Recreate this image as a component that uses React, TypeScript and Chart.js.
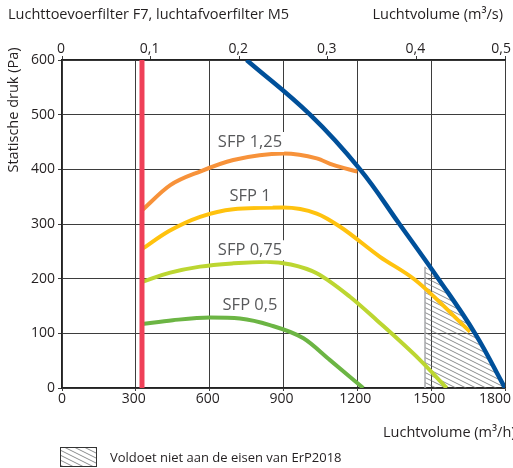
import React, { useEffect, useRef } from 'react';
import { Chart, registerables } from 'chart.js';

Chart.register(...registerables);

const FONT = '"Open Sans", "Noto Sans", sans-serif';

// Tick labels
const xTicksM3h = [0, 300, 600, 900, 1200, 1500, 1800];
const xTicksM3s = [0, 0.1, 0.2, 0.3, 0.4, 0.5];
const yTicks = [0, 100, 200, 300, 400, 500, 600];

// Fan curve (max)
const fanX = [750, 1008, 1211, 1371, 1529, 1678, 1800];
const fanY = [600, 500, 400, 300, 200, 100, 0];

// SFP curves
const sfp125X = [325, 440, 561, 696, 899, 1035, 1102, 1200];
const sfp125Y = [325, 371, 396, 417, 429, 420, 408, 396];

const sfp100X = [325, 435, 561, 696, 899, 1035, 1130, 1292, 1434, 1658];
const sfp100Y = [254, 287, 313, 327, 330, 319, 295, 240, 198, 103];

const sfp075X = [325, 440, 561, 696, 830, 930, 1035, 1170, 1279, 1455, 1563];
const sfp075Y = [194, 211, 222, 228, 231, 226, 210, 167, 124, 51, 0];

const sfp050X = [325, 450, 601, 723, 845, 981, 1089, 1224];
const sfp050Y = [117, 124, 129, 127, 115, 91, 51, 0];

// Minimum airflow line
const minFlowX = [325, 325];
const minFlowY = [0, 600];

// Region not meeting ErP2018
const hatchX = [1475, 1529, 1678, 1800];
const hatchY = [222, 200, 100, 0];
const hatchEdgeX = [1475, 1475];
const hatchEdgeY = [0, 222];

// SFP labels (data coordinates)
const sfpLabels = ['SFP 1,25', 'SFP 1', 'SFP 0,75', 'SFP 0,5'];
const sfpLabelX = [764, 764, 764, 764];
const sfpLabelY = [450, 351, 252, 152];

const pts = (xs: number[], ys: number[]) => xs.map((x, i) => ({ x, y: ys[i] }));

function makeHatch(): CanvasPattern | string {
  const c = document.createElement('canvas');
  c.width = 10;
  c.height = 5;
  const g = c.getContext('2d');
  if (!g) return 'rgba(0,0,0,0.1)';
  g.strokeStyle = '#6d6e71';
  g.lineWidth = 0.8;
  for (const dy of [-5, 0, 5]) {
    g.beginPath();
    g.moveTo(0, dy);
    g.lineTo(10, dy + 5);
    g.stroke();
  }
  return g.createPattern(c, 'repeat') || '#ccc';
}

const GRID = '#3d3d3d';
const TEXT = '#231f20';

export default function App() {
  const ref = useRef<HTMLCanvasElement | null>(null);

  useEffect(() => {
    if (!ref.current) return;
    const hatch = makeHatch();

    const line = (data: any, color: string, width: number, order: number, extra: any = {}) => ({
      data,
      borderColor: color,
      backgroundColor: color,
      borderWidth: width,
      pointRadius: 0,
      cubicInterpolationMode: 'monotone',
      fill: false,
      order,
      borderCapStyle: 'butt',
      ...extra,
    });

    const textPlugin = {
      id: 'texts',
      afterDatasetsDraw(chart: any) {
        const ctx = chart.ctx as CanvasRenderingContext2D;
        const xs = chart.scales.x;
        const ys = chart.scales.y;
        ctx.save();
        ctx.font = `16.5px ${FONT}`;
        ctx.textAlign = 'center';
        ctx.textBaseline = 'middle';
        sfpLabels.forEach((t, i) => {
          const px = xs.getPixelForValue(sfpLabelX[i]);
          const py = ys.getPixelForValue(sfpLabelY[i]);
          const w = ctx.measureText(t).width;
          ctx.fillStyle = '#ffffff';
          ctx.fillRect(px - w / 2 - 2, py - 10, w + 4, 20);
          ctx.fillStyle = '#58595b';
          ctx.fillText(t, px, py);
        });
        ctx.restore();
      },
      afterDraw(chart: any) {
        const ctx = chart.ctx as CanvasRenderingContext2D;
        const xs = chart.scales.x;
        const x2 = chart.scales.x2;
        ctx.save();
        ctx.fillStyle = TEXT;
        ctx.textBaseline = 'middle';
        // tick labels of both horizontal axes
        ctx.font = `14px ${FONT}`;
        ctx.textAlign = 'left';
        const drawTick = (label: string, px: number, py: number, shift: number) => {
          const w = ctx.measureText(label).width;
          let left = px - w / 2 + shift;
          if (left + w > 511) left = 511 - w;
          ctx.fillText(label, left, py);
        };
        xTicksM3h.forEach((v) => drawTick(String(v), xs.getPixelForValue(v), 399, v === 0 ? 0 : -2));
        xTicksM3s.forEach((v) => drawTick(String(v).replace('.', ','), x2.getPixelForValue(v), 49, -1));

        ctx.font = `14.5px ${FONT}`;
        ctx.textAlign = 'left';
        ctx.fillText('Luchttoevoerfilter F7, luchtafvoerfilter M5', 8, 15);
        ctx.textAlign = 'right';
        ctx.fillText('Luchtvolume (m³/s)', 503, 15);
        ctx.textAlign = 'left';
        ctx.fillText('Luchtvolume (m³/h)', 383, 433);
        // y title
        ctx.save();
        ctx.translate(14, 110);
        ctx.rotate(-Math.PI / 2);
        ctx.textAlign = 'center';
        ctx.fillText('Statische druk (Pa)', 0, 0);
        ctx.restore();
        // legend
        ctx.fillStyle = hatch as any;
        ctx.fillRect(60, 447, 37, 20);
        ctx.strokeStyle = '#333';
        ctx.lineWidth = 1;
        ctx.strokeRect(60.5, 447.5, 36, 19);
        ctx.fillStyle = TEXT;
        ctx.font = `13px ${FONT}`;
        ctx.textAlign = 'left';
        ctx.fillText('Voldoet niet aan de eisen van ErP2018', 110, 458);
        ctx.restore();
      },
    };

    const tickFont = { family: FONT, size: 14 };

    const chart = new Chart(ref.current, {
      type: 'line',
      data: {
        datasets: [
          line(pts(fanX, fanY), '#00509a', 4.5, 0, { cubicInterpolationMode: 'default', tension: 0.4 }),
          line(pts(minFlowX, minFlowY), '#ef4058', 5, 1, { cubicInterpolationMode: 'default', tension: 0 }),
          line(pts(sfp125X, sfp125Y), '#f7923a', 4, 2),
          line(pts(sfp100X, sfp100Y), '#ffc20e', 4, 3),
          line(pts(sfp075X, sfp075Y), '#bcd631', 4, 4),
          line(pts(sfp050X, sfp050Y), '#6cb544', 4, 5),
          line(pts(hatchEdgeX, hatchEdgeY), '#a7a9ac', 1.5, 6, { cubicInterpolationMode: 'default', tension: 0 }),
          {
            data: pts(hatchX, hatchY),
            borderWidth: 0,
            borderColor: 'rgba(0,0,0,0)',
            backgroundColor: hatch,
            pointRadius: 0,
            tension: 0.4,
            fill: 'origin',
            order: 7,
          },
        ] as any,
      },
      options: {
        animation: false,
        responsive: false,
        events: [],
        layout: { padding: { left: 0, right: 8, top: 0, bottom: 0 } },
        plugins: {
          legend: { display: false },
          tooltip: { enabled: false },
          title: { display: false },
        },
        scales: {
          x: {
            type: 'linear',
            position: 'bottom',
            min: 0,
            max: 1800,
            afterBuildTicks: (s: any) => {
              s.ticks = xTicksM3h.map((v) => ({ value: v }));
            },
            afterFit: (s: any) => {
              s.height = 80;
              s.paddingLeft = 0;
              s.paddingRight = 0;
            },
            ticks: { display: false, font: tickFont },
            grid: { color: GRID, lineWidth: 1, tickLength: 3, drawTicks: true },
            border: { display: true, color: '#222', width: 1.2 },
          },
          x2: {
            type: 'linear',
            position: 'top',
            min: 0,
            max: 0.5,
            afterBuildTicks: (s: any) => {
              s.ticks = xTicksM3s.map((v) => ({ value: v }));
            },
            afterFit: (s: any) => {
              s.height = 60;
              s.paddingLeft = 0;
              s.paddingRight = 0;
            },
            ticks: { display: false, font: tickFont },
            grid: { drawOnChartArea: false, color: GRID, tickLength: 4, drawTicks: true },
            border: { display: true, color: '#222', width: 1.2 },
          },
          y: {
            type: 'linear',
            position: 'left',
            min: 0,
            max: 600,
            afterBuildTicks: (s: any) => {
              s.ticks = yTicks.map((v) => ({ value: v }));
            },
            afterFit: (s: any) => {
              s.width = 62;
              s.paddingTop = 0;
              s.paddingBottom = 0;
            },
            ticks: { color: TEXT, font: tickFont, padding: 3, callback: (v: any) => String(v) },
            grid: { color: GRID, lineWidth: 1, tickLength: 4, drawTicks: true },
            border: { display: true, color: '#222', width: 1.2 },
          },
        },
      } as any,
      plugins: [textPlugin],
    });

    return () => chart.destroy();
  }, []);

  return (
    <div style={{ position: 'fixed', left: 0, top: 0, width: 513, height: 468, background: '#fff' }}>
      <canvas ref={ref} width={513} height={468} style={{ width: 513, height: 468, display: 'block' }} />
    </div>
  );
}
